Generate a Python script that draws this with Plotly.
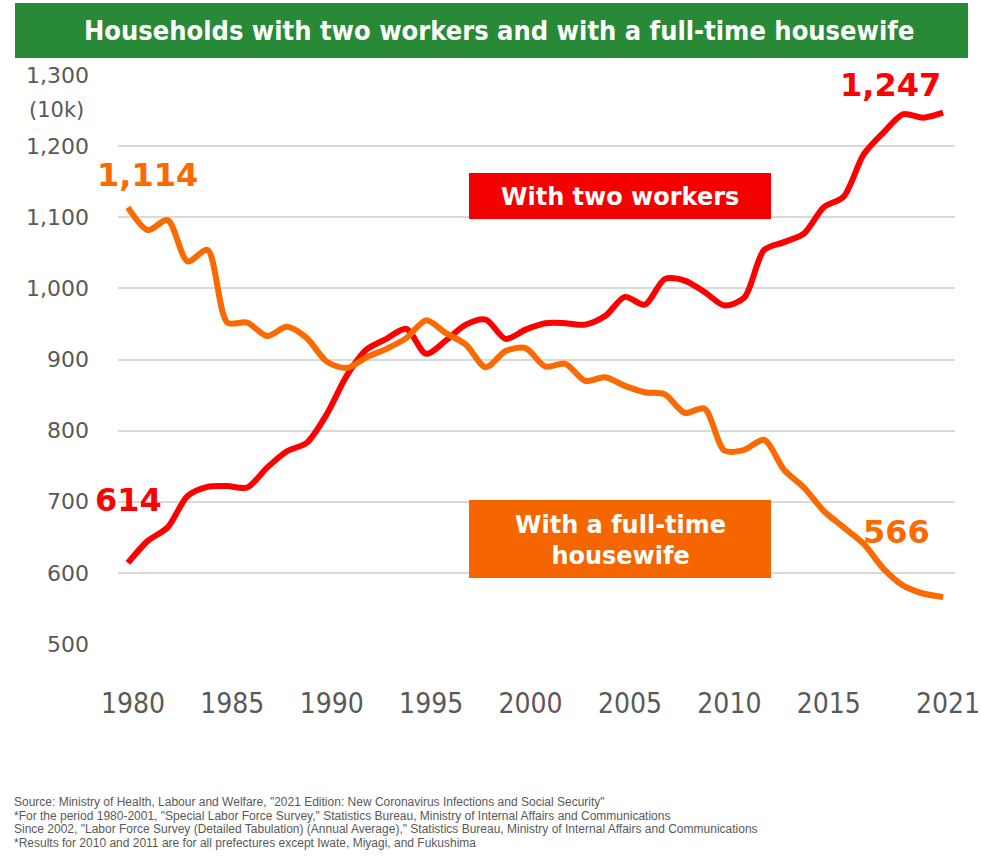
import plotly.graph_objects as go

# ---- data (10k households) ----
years = list(range(1980, 2022))
two_workers = [614, 645, 664, 708, 721, 722, 720, 748, 771, 783,
               823, 877, 914, 929, 943, 908, 927, 949, 956, 929,
               942, 951, 951, 949, 961, 988, 977, 1013, 1011, 995,
               976, 987, 1054, 1065, 1077, 1114, 1129, 1188, 1219, 1245,
               1240, 1247]
housewife = [1114, 1082, 1096, 1038, 1054, 952, 952, 933, 946, 930,
             897, 888, 903, 915, 930, 955, 937, 921, 889, 912,
             916, 890, 894, 870, 875, 863, 854, 851, 825, 831,
             772, 773, 787, 745, 720, 687, 664, 641, 606, 582,
             571, 566]
x_tick_years = [1980, 1985, 1990, 1995, 2000, 2005, 2010, 2015, 2021]
y_ticks = [500, 600, 700, 800, 900, 1000, 1100, 1200, 1300]

title_text = "Households with two workers and with a full-time housewife"
label_two = "With two workers"
label_wife = "With a full-time<br>housewife"
unit_text = "(10k)"
footnote_lines = [
    'Source: Ministry of Health, Labour and Welfare, "2021 Edition: New Coronavirus Infections and Social Security"',
    '*For the period 1980-2001, "Special Labor Force Survey," Statistics Bureau, Ministry of Internal Affairs and Communications',
    'Since 2002, "Labor Force Survey (Detailed Tabulation) (Annual Average)," Statistics Bureau, Ministry of Internal Affairs and Communications',
    '*Results for 2010 and 2011 are for all prefectures except Iwate, Miyagi, and Fukushima',
]

RED = "#FF0000"
ORANGE = "#FA6A00"
RED_BOX = "#F40000"
ORANGE_BOX = "#F56600"
GREEN = "#288A37"
GRAY = "#595959"

W, H = 981, 859
L, T, PW, PH = 118, 75, 837, 569


def px(x):
    return (x - L) / PW


def py(y):
    return (T + PH - y) / PH


fig = go.Figure()
fig.add_trace(go.Scatter(x=years, y=two_workers, mode="lines",
                         line=dict(color=RED, width=6, shape="spline", smoothing=0.8),
                         hoverinfo="x+y", name="With two workers"))
fig.add_trace(go.Scatter(x=years, y=housewife, mode="lines",
                         line=dict(color=ORANGE, width=6, shape="spline", smoothing=0.8),
                         hoverinfo="x+y", name="With a full-time housewife"))

shapes = [dict(type="rect", xref="paper", yref="paper",
               x0=px(15), x1=px(968), y0=py(58), y1=py(3),
               fillcolor=GREEN, line=dict(width=0), layer="above"),
          dict(type="rect", xref="paper", yref="paper",
               x0=px(469), x1=px(771), y0=py(219), y1=py(173),
               fillcolor=RED_BOX, line=dict(width=0), layer="above"),
          dict(type="rect", xref="paper", yref="paper",
               x0=px(469), x1=px(771), y0=py(578), y1=py(500),
               fillcolor=ORANGE_BOX, line=dict(width=0), layer="above")]

bold = "DejaVu Sans"
annotations = [
    dict(text=title_text, xref="paper", yref="paper", x=px(499), y=py(31),
         xanchor="center", yanchor="middle", showarrow=False,
         font=dict(family="DejaVu Sans Condensed, DejaVu Sans", size=27, color="white", weight="bold")),
    dict(text=label_two, xref="paper", yref="paper", x=px(620), y=py(197),
         xanchor="center", yanchor="middle", showarrow=False,
         font=dict(family=bold, size=24, color="white", weight="bold")),
    dict(text=label_wife, xref="paper", yref="paper", x=px(620), y=py(540),
         xanchor="center", yanchor="middle", showarrow=False,
         font=dict(family=bold, size=24, color="white", weight="bold")),
    dict(text=f"{housewife[0]:,}", x=years[0], y=housewife[0], xshift=20, yshift=32,
         showarrow=False, font=dict(family=bold, size=32, color=ORANGE, weight="bold")),
    dict(text=f"{two_workers[0]:,}", x=years[0], y=two_workers[0], xshift=1, yshift=63,
         showarrow=False, font=dict(family=bold, size=32, color=RED, weight="bold")),
    dict(text=f"{two_workers[-1]:,}", x=years[-1], y=two_workers[-1], xshift=-53, yshift=28,
         showarrow=False, font=dict(family=bold, size=32, color=RED, weight="bold")),
    dict(text=f"{housewife[-1]:,}", x=years[-1], y=housewife[-1], xshift=-47, yshift=65,
         showarrow=False, font=dict(family=bold, size=32, color=ORANGE, weight="bold")),
    dict(text=unit_text, xref="paper", yref="paper", x=px(56), y=py(110),
         xanchor="center", yanchor="middle", showarrow=False,
         font=dict(family="DejaVu Sans", size=21, color=GRAY)),
]
for i, line in enumerate(footnote_lines):
    annotations.append(dict(text=line, xref="paper", yref="paper", x=px(12), y=py(802 + 13.5 * i),
                            xanchor="left", yanchor="middle", align="left", showarrow=False,
                            font=dict(family="Liberation Sans", size=12, color=GRAY)))

fig.update_layout(
    width=W, height=H,
    margin=dict(l=L, r=W - L - PW, t=T, b=H - T - PH, pad=0, autoexpand=False),
    paper_bgcolor="white", plot_bgcolor="white",
    showlegend=False,
    shapes=shapes, annotations=annotations,
    xaxis=dict(range=[1979.5, 2021.6], tickmode="array", tickvals=x_tick_years,
               ticktext=[str(y) for y in x_tick_years], showgrid=False, zeroline=False,
               showline=False, ticks="", ticklabelstandoff=40, ticklabelshift=5,
               automargin=False,
               tickfont=dict(family="DejaVu Sans Condensed, DejaVu Sans", size=28, color=GRAY)),
    yaxis=dict(range=[500, 1300], tickmode="array", tickvals=y_ticks, tickformat=",d",
               showgrid=True, gridcolor="#D9D9D9", gridwidth=1.5, zeroline=False,
               showline=False, ticks="", ticklabelstandoff=28, automargin=False,
               tickfont=dict(family="DejaVu Sans", size=22, color=GRAY)),
)

fig.write_html("out.html", config={"displayModeBar": False},
               post_script="document.body.style.margin='0';")
